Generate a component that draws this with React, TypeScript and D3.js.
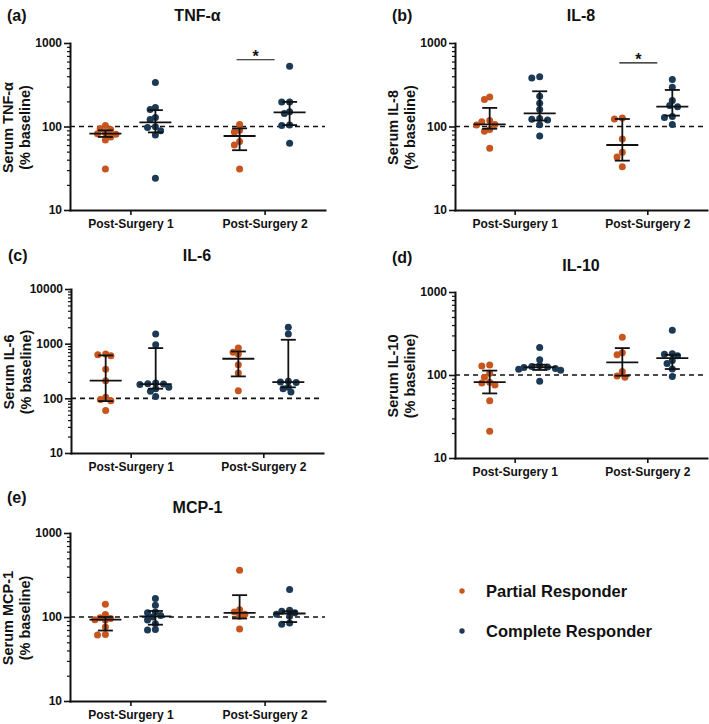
import { useEffect, useRef } from "react";
import * as d3 from "d3";

const categories = ["Post-Surgery 1", "Post-Surgery 2"];
const responders = ["Partial Responder", "Complete Responder"];
const responderColors = ["#c8551e", "#1c3a56"];

// % of baseline, one array per column
const tnfPartial1 = [103, 94, 92, 84, 82, 81, 75, 69, 31];
const tnfComplete1 = [336, 169, 160, 128, 121, 99, 97, 89, 79, 24];
const tnfPartial2 = [106, 90, 86, 66, 60, 31];
const tnfComplete2 = [526, 197, 197, 150, 143, 104, 103, 63];
// median / lower / upper bar, columns in order P1, C1, P2, C2
const tnfMedian = [82, 112, 77, 148];
const tnfLow = [75, 85, 52, 104];
const tnfHigh = [90, 157, 95, 197];

const il8Partial1 = [225, 210, 118, 114, 106, 104, 92, 88, 55];
const il8Complete1 = [395, 380, 230, 190, 160, 125, 122, 120, 105, 77];
const il8Partial2 = [126, 123, 71, 49, 43, 33];
const il8Complete2 = [365, 295, 205, 178, 172, 132, 128, 106];
const il8Median = [106, 144, 60, 173];
const il8Low = [94, 118, 39, 135];
const il8High = [167, 264, 123, 274];

const il6Partial1 = [650, 630, 600, 340, 210, 105, 95, 90, 60];
const il6Complete1 = [1500, 960, 190, 185, 182, 180, 160, 150, 135, 108];
const il6Partial2 = [830, 700, 650, 410, 290, 138];
const il6Complete2 = [2000, 1500, 205, 200, 195, 160, 150, 130];
const il6Median = [210, 182, 530, 198];
const il6Low = [89, 150, 252, 159];
const il6High = [610, 830, 720, 1178];

const il10Partial1 = [132, 128, 105, 94, 82, 80, 76, 49, 21];
const il10Complete1 = [215, 153, 130, 127, 125, 123, 120, 117, 114, 84];
const il10Partial2 = [285, 185, 175, 110, 97, 94];
const il10Complete2 = [345, 180, 178, 170, 150, 138, 118, 96];
const il10Median = [82, 124, 142, 160];
const il10Low = [60, 115, 98, 118];
const il10High = [113, 133, 211, 175];

const mcpPartial1 = [142, 107, 98, 96, 93, 92, 76, 62, 61];
const mcpComplete1 = [166, 138, 115, 112, 104, 100, 92, 83, 71, 70];
const mcpPartial2 = [360, 122, 115, 108, 102, 72];
const mcpComplete2 = [212, 120, 117, 112, 108, 102, 85, 82];
const mcpMedian = [93, 102, 112, 110];
const mcpLow = [69, 81, 96, 87];
const mcpHigh = [100, 118, 182, 117];

const FONT = "'Liberation Sans', Arial, sans-serif";
const INK = "#111";
const R = 3.5;

const panels = [
  {
    letter: "(a)", title: "TNF-α", ylab: "Serum TNF-α",
    left: 70, right: 325, top: 43, bottom: 210, max: 1000,
    titleY: 15, letterY: 15, sig: 630,
    values: [tnfPartial1, tnfComplete1, tnfPartial2, tnfComplete2],
    median: tnfMedian, low: tnfLow, high: tnfHigh,
  },
  {
    letter: "(b)", title: "IL-8", ylab: "Serum IL-8",
    left: 455, right: 707, top: 43, bottom: 210, max: 1000,
    titleY: 15, letterY: 15, sig: 577,
    values: [il8Partial1, il8Complete1, il8Partial2, il8Complete2],
    median: il8Median, low: il8Low, high: il8High,
  },
  {
    letter: "(c)", title: "IL-6", ylab: "Serum IL-6",
    left: 71, right: 323, top: 289, bottom: 453, max: 10000,
    titleY: 255, letterY: 255, sig: null,
    values: [il6Partial1, il6Complete1, il6Partial2, il6Complete2],
    median: il6Median, low: il6Low, high: il6High,
  },
  {
    letter: "(d)", title: "IL-10", ylab: "Serum IL-10",
    left: 455, right: 707, top: 292, bottom: 458, max: 1000,
    titleY: 265, letterY: 257, sig: null,
    values: [il10Partial1, il10Complete1, il10Partial2, il10Complete2],
    median: il10Median, low: il10Low, high: il10High,
  },
  {
    letter: "(e)", title: "MCP-1", ylab: "Serum MCP-1",
    left: 70, right: 325, top: 533, bottom: 701, max: 1000,
    titleY: 507, letterY: 497, sig: null,
    values: [mcpPartial1, mcpComplete1, mcpPartial2, mcpComplete2],
    median: mcpMedian, low: mcpLow, high: mcpHigh,
  },
];

// simple beeswarm so dots with close values sit side by side (a little overlap allowed)
const swarm = (values: number[], y: any, cx: number, r: number) => {
  const placed: { x: number; y: number }[] = [];
  const step = r * 0.75;
  const minDist = 2 * r * 0.78;
  [...values].sort((a, b) => b - a).forEach((v) => {
    const py = y(v);
    for (let k = 0; k < 60; k++) {
      const off = k === 0 ? 0 : (k % 2 ? -1 : 1) * Math.ceil(k / 2) * step;
      const px = cx + off;
      const ok = placed.every((q) => (q.x - px) ** 2 + (q.y - py) ** 2 >= minDist ** 2);
      if (ok) {
        placed.push({ x: px, y: py });
        break;
      }
    }
  });
  return placed;
};

const drawPanel = (svg: any, p: any) => {
  const y = d3.scaleLog().domain([10, p.max]).range([p.bottom, p.top]);
  const x = d3.scalePoint().domain(categories).range([p.left, p.right]).padding(0.45);
  const inner = d3.scalePoint().domain(responders).range([-25, 25]);
  const g = svg.append("g");

  // dashed 100% line
  g.append("line")
    .attr("x1", p.left)
    .attr("x2", p.right)
    .attr("y1", y(100))
    .attr("y2", y(100))
    .attr("stroke", INK)
    .attr("stroke-width", 1.6)
    .attr("stroke-dasharray", "5,4");

  const cols: [string, string, number][] = [
    [categories[0], responders[0], 0],
    [categories[0], responders[1], 1],
    [categories[1], responders[0], 0],
    [categories[1], responders[1], 1],
  ];

  cols.forEach(([cat, resp, ci], i) => {
    const cx = (x(cat) as number) + (inner(resp) as number);
    const pts = swarm(p.values[i], y, cx, R);
    g.append("g")
      .selectAll("circle")
      .data(pts)
      .join("circle")
      .attr("cx", (d: any) => d.x)
      .attr("cy", (d: any) => d.y)
      .attr("r", R)
      .attr("fill", responderColors[ci]);

    // median with interquartile range
    const bar = g.append("g").attr("stroke", INK).attr("stroke-width", 1.8);
    bar.append("line")
      .attr("x1", cx).attr("x2", cx)
      .attr("y1", y(p.low[i])).attr("y2", y(p.high[i]));
    bar.append("line")
      .attr("x1", cx - 16).attr("x2", cx + 16)
      .attr("y1", y(p.median[i])).attr("y2", y(p.median[i]));
    [p.low[i], p.high[i]].forEach((v: number) => {
      bar.append("line")
        .attr("x1", cx - 7.5).attr("x2", cx + 7.5)
        .attr("y1", y(v)).attr("y2", y(v));
    });
  });

  // axes
  const major = d3.range(1, Math.log10(p.max) + 1).map((k) => 10 ** k);
  const minor: number[] = [];
  major.slice(0, -1).forEach((m) => d3.range(2, 10).forEach((k) => minor.push(k * m)));

  const yMinor = g.append("g")
    .attr("transform", `translate(${p.left},0)`)
    .call(d3.axisLeft(y).tickValues(minor).tickFormat(() => "").tickSize(3).tickSizeOuter(0));
  yMinor.select(".domain").remove();
  yMinor.selectAll("line").attr("stroke", INK).attr("stroke-width", 1.2);

  const yAxis = g.append("g")
    .attr("transform", `translate(${p.left},0)`)
    .call(
      d3.axisLeft(y)
        .tickValues(major)
        .tickFormat(d3.format("d"))
        .tickSize(6)
        .tickSizeOuter(0)
        .tickPadding(2)
    );

  const xAxis = g.append("g")
    .attr("transform", `translate(0,${p.bottom})`)
    .call(d3.axisBottom(x).tickSize(5).tickSizeOuter(0).tickPadding(4));

  [yAxis, xAxis].forEach((a) => {
    a.select(".domain").attr("stroke", INK).attr("stroke-width", 2).attr("stroke-linecap", "square");
    a.selectAll(".tick line").attr("stroke", INK).attr("stroke-width", 1.6);
    a.selectAll("text")
      .attr("fill", INK)
      .style("font-family", FONT)
      .style("font-weight", "bold")
      .style("font-size", "12px");
  });

  // labels
  g.append("text")
    .attr("x", (p.left + p.right) / 2)
    .attr("y", p.titleY)
    .attr("dy", "0.35em")
    .attr("text-anchor", "middle")
    .style("font-family", FONT)
    .style("font-weight", "bold")
    .style("font-size", "16px")
    .attr("fill", INK)
    .text(p.title);

  g.append("text")
    .attr("x", p.left - 63)
    .attr("y", p.letterY)
    .attr("dy", "0.35em")
    .style("font-family", FONT)
    .style("font-weight", "bold")
    .style("font-size", "16px")
    .attr("fill", INK)
    .text(p.letter);

  const labelY = (p.top + p.bottom) / 2 + 1;
  [p.ylab, "(% baseline)"].forEach((t, k) => {
    g.append("text")
      .attr("transform", `translate(${p.left - 62 + k * 17},${labelY}) rotate(-90)`)
      .attr("dy", "0.35em")
      .attr("text-anchor", "middle")
      .style("font-family", FONT)
      .style("font-weight", "bold")
      .style("font-size", "14.5px")
      .attr("fill", INK)
      .text(t);
  });

  // significance bracket
  if (p.sig) {
    const c = x(categories[1]) as number;
    g.append("line")
      .attr("x1", c - 28)
      .attr("x2", c + 10)
      .attr("y1", y(p.sig))
      .attr("y2", y(p.sig))
      .attr("stroke", INK)
      .attr("stroke-width", 1.2);
    g.append("text")
      .attr("x", c - 9)
      .attr("y", y(p.sig) + 2)
      .attr("text-anchor", "middle")
      .style("font-family", FONT)
      .style("font-weight", "bold")
      .style("font-size", "16px")
      .attr("fill", INK)
      .text("*");
  }
};

const drawLegend = (svg: any) => {
  const g = svg.append("g").attr("transform", "translate(462,591)");
  responders.forEach((name, i) => {
    const row = g.append("g").attr("transform", `translate(0,${i * 40})`);
    row.append("circle").attr("r", 2.7).attr("fill", responderColors[i]);
    row.append("text")
      .attr("x", 24)
      .attr("dy", "0.35em")
      .style("font-family", FONT)
      .style("font-weight", "bold")
      .style("font-size", "16.5px")
      .attr("fill", INK)
      .text(name);
  });
};

const App = () => {
  const svgRef = useRef<SVGSVGElement>(null);

  useEffect(() => {
    const svg = d3.select(svgRef.current);
    svg.selectAll("*").remove();
    panels.forEach((p) => drawPanel(svg, p));
    drawLegend(svg);
  }, []);

  return (
    <svg
      ref={svgRef}
      width={709}
      height={724}
      style={{ position: "absolute", left: 0, top: 0, background: "#fff" }}
    />
  );
};

export default App;
